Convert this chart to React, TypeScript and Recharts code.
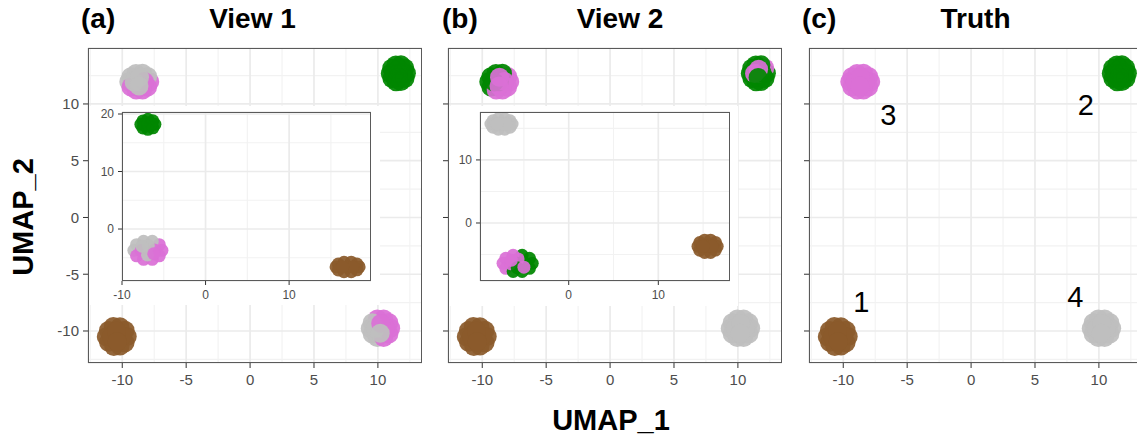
import React from 'react';
import { ScatterChart, Scatter, XAxis, YAxis, CartesianGrid } from 'recharts';

type Pt = [number, number];

const COLORS: Record<string, string> = {
  brown: '#8B5A2B',
  green: '#008700',
  pink: '#DA70D6',
  gray: '#BEBEBE',
};

// shared UMAP embedding (main panels), one array per truth cluster
const C1_PTS: Pt[] = [
  [-9.61, -10.48], [-9.78, -9.94], [-10.18, -9.63], [-10.7, -9.6], [-11.08, -9.95],
  [-11.25, -10.5], [-11.07, -11.0], [-10.66, -11.36], [-10.17, -11.33], [-9.78, -11.03],
  [-10.43, -10.48], [-10.0, -10.45], [-10.85, -10.5], [-10.45, -10.0], [-10.4, -10.95],
];
const C2_PTS: Pt[] = [
  [12.23, 12.7], [12.1, 13.17], [11.8, 13.45], [11.4, 13.43], [11.08, 13.15],
  [10.97, 12.68], [11.1, 12.23], [11.42, 11.96], [11.8, 11.97], [12.12, 12.25],
  [11.6, 12.7], [11.9, 12.72], [11.3, 12.68], [11.62, 13.05], [11.58, 12.33],
];
const C3_PTS: Pt[] = [
  [-7.85, 11.96], [-8.01, 12.43], [-8.42, 12.7], [-8.93, 12.68], [-9.33, 12.4],
  [-9.49, 11.95], [-9.32, 11.5], [-8.91, 11.22], [-8.41, 11.23], [-8.02, 11.5],
  [-8.67, 11.96], [-8.27, 11.98], [-9.07, 11.94], [-8.65, 12.35], [-8.69, 11.58],
];
const C4_PTS: Pt[] = [
  [11.0, -9.76], [10.85, -9.25], [10.45, -8.94], [9.95, -8.95], [9.55, -9.27],
  [9.4, -9.78], [9.56, -10.27], [9.95, -10.58], [10.45, -10.57], [10.86, -10.26],
  [10.2, -9.76], [10.6, -9.74], [9.8, -9.78], [10.22, -9.33], [10.18, -10.2],
];

// cluster labels per view for each point
const V1_C3 = ['pink', 'gray', 'gray', 'gray', 'gray', 'gray', 'pink', 'pink', 'pink', 'pink', 'gray', 'pink', 'gray', 'gray', 'gray'];
const V1_C4 = ['pink', 'pink', 'pink', 'pink', 'gray', 'gray', 'gray', 'gray', 'pink', 'pink', 'gray', 'pink', 'gray', 'pink', 'gray'];
const V2_C2 = ['green', 'pink', 'green', 'green', 'green', 'green', 'green', 'green', 'green', 'green', 'pink', 'green', 'pink', 'pink', 'green'];
const V2_C3 = ['pink', 'pink', 'green', 'green', 'green', 'green', 'green', 'pink', 'pink', 'pink', 'green', 'pink', 'green', 'pink', 'pink'];

// inset (a): view 1 UMAP
const IA_GREEN: Pt[] = [
  [-6.06, 18.2], [-6.31, 18.82], [-6.9, 19.07], [-7.49, 18.8], [-7.74, 18.2], [-7.5, 17.58],
  [-6.9, 17.33], [-6.3, 17.6], [-6.9, 18.2], [-6.5, 18.25], [-7.3, 18.15],
];
const IA_MIX: Pt[] = [
  [-5.22, -3.7], [-5.54, -2.73], [-6.38, -2.13], [-7.42, -2.13], [-8.26, -2.73], [-8.58, -3.7],
  [-8.26, -4.67], [-7.42, -5.27], [-6.38, -5.27], [-5.54, -4.67],
  [-6.9, -3.7], [-6.1, -3.65], [-7.7, -3.75], [-6.85, -2.9], [-6.95, -4.5], [-6.2, -4.3], [-7.6, -3.0],
];
const IA_MIX_LAB = ['pink', 'pink', 'gray', 'gray', 'gray', 'gray', 'pink', 'pink', 'pink', 'pink', 'gray', 'pink', 'pink', 'gray', 'gray', 'pink', 'gray'];
const IA_BROWN: Pt[] = [
  [18.38, -6.6], [18.12, -6.09], [17.43, -5.77], [16.57, -5.78], [15.88, -6.1], [15.62, -6.6],
  [15.88, -7.11], [16.57, -7.43], [17.43, -7.42], [18.12, -7.1], [17.0, -6.6], [17.6, -6.6], [16.4, -6.6],
];

// inset (b): view 2 UMAP
const IB_GRAY: Pt[] = [
  [-6.32, 15.7], [-6.55, 16.21], [-7.14, 16.53], [-7.86, 16.52], [-8.45, 16.2], [-8.68, 15.7],
  [-8.45, 15.19], [-7.86, 14.87], [-7.14, 14.88], [-6.55, 15.2], [-7.5, 15.7], [-7.0, 15.72], [-8.0, 15.68],
];
const IB_MIX: Pt[] = [
  [-4.07, -6.4], [-4.38, -5.61], [-5.2, -5.12], [-6.2, -5.12], [-7.02, -5.61], [-7.33, -6.4],
  [-7.02, -7.19], [-6.2, -7.68], [-5.2, -7.68], [-4.38, -7.19],
  [-5.7, -6.4], [-4.9, -6.35], [-6.5, -6.45], [-5.65, -5.7], [-5.75, -7.1], [-6.4, -5.9], [-5.0, -7.0],
];
const IB_MIX_LAB = ['green', 'green', 'green', 'pink', 'pink', 'pink', 'pink', 'green', 'green', 'green', 'green', 'green', 'pink', 'pink', 'green', 'pink', 'pink'];
const IB_BROWN: Pt[] = [
  [16.57, -3.7], [16.37, -3.09], [15.83, -2.72], [15.17, -2.73], [14.63, -3.1], [14.43, -3.7],
  [14.63, -4.31], [15.17, -4.68], [15.83, -4.67], [16.37, -4.3], [15.5, -3.7], [16.0, -3.7], [15.0, -3.7],
];

// truth cluster numbers in panel (c)
const TRUTH_LABELS = [
  { x: -8.59, y: -7.49, t: '1' },
  { x: 8.98, y: 9.87, t: '2' },
  { x: -6.48, y: 8.99, t: '3' },
  { x: 8.16, y: -7.0, t: '4' },
];

const MAIN_TICKS = [-10, -5, 0, 5, 10];
const MAIN_MINOR = [-12.5, -7.5, -2.5, 2.5, 7.5, 12.5];
const MAIN_X: [number, number] = [-12.68, 13.45];
const MAIN_Y: [number, number] = [-12.82, 14.93];

const FONT = '"Liberation Sans", Arial, Helvetica, sans-serif';

const mk = (pts: Pt[], labs: string[] | string) =>
  pts.map(([x, y], i) => ({ x, y, c: typeof labs === 'string' ? labs : labs[i] }));

const dot = (r: number) => (p: any) => {
  const c = p.payload?.c ?? p.c;
  return <circle cx={p.cx} cy={p.cy} r={r} fill={COLORS[c]} fillOpacity={0.93} />;
};

const numLabel = (p: any) => (
  <text x={p.cx} y={p.cy} textAnchor="middle" dominantBaseline="central" fontSize={29} fill="#000" fontFamily={FONT}>
    {p.payload?.t ?? p.t}
  </text>
);

const gen = (vals: number[], dir: 'x' | 'y', dom: [number, number]) => (args: any) => {
  const ax = dir === 'x' ? args.xAxis : args.yAxis;
  return vals.map((v) => {
    if (ax && typeof ax.scale === 'function') return ax.scale(v);
    const o = args.offset;
    return dir === 'x'
      ? o.left + ((v - dom[0]) / (dom[1] - dom[0])) * o.width
      : o.top + ((dom[1] - v) / (dom[1] - dom[0])) * o.height;
  });
};

type PlotProps = {
  left: number; top: number; w: number; h: number;
  yW: number; xH: number;
  xDom: [number, number]; yDom: [number, number];
  xTicks: number[]; yTicks: number[];
  xMinor: number[]; yMinor: number[];
  data: any[]; r: number;
  fs: number; showY: boolean; tickSize: number; xMargin: number; yMargin: number;
  labels?: any[];
};

const MT = 10; // room above the plot so top tick labels are not clipped

function Plot(p: PlotProps) {
  const tickStyle = { fill: '#4D4D4D', fontSize: p.fs, fontFamily: FONT };
  return (
    <>
      <div style={{ position: 'absolute', left: p.left - p.yW, top: p.top - MT }}>
        <ScatterChart width={p.w + p.yW} height={p.h + p.xH + MT} margin={{ top: MT, right: 0, bottom: 0, left: 0 }}>
          <CartesianGrid
            stroke="#F2F2F2"
            strokeWidth={1.1}
            verticalCoordinatesGenerator={gen(p.xMinor, 'x', p.xDom)}
            horizontalCoordinatesGenerator={gen(p.yMinor, 'y', p.yDom)}
          />
          <CartesianGrid stroke="#EBEBEB" strokeWidth={1.7} />
          <XAxis
            type="number" dataKey="x" domain={p.xDom} allowDataOverflow ticks={p.xTicks}
            height={p.xH} axisLine={false} tickSize={p.tickSize} tickMargin={p.xMargin}
            tickLine={{ stroke: '#333333' }} tick={tickStyle} interval={0}
          />
          <YAxis
            type="number" dataKey="y" domain={p.yDom} allowDataOverflow ticks={p.yTicks}
            width={p.yW} axisLine={false} tickSize={p.tickSize} tickMargin={p.yMargin}
            tickLine={{ stroke: '#333333' }} tick={tickStyle} interval={0}
            tickFormatter={(v: number) => (p.showY ? String(v) : '')}
          />
          <Scatter data={p.data} shape={dot(p.r)} isAnimationActive={false} />
          {p.labels && <Scatter data={p.labels} shape={numLabel} isAnimationActive={false} />}
        </ScatterChart>
      </div>
      <div
        style={{
          position: 'absolute', left: p.left, top: p.top, width: p.w, height: p.h,
          border: '1px solid #5A5A5A', boxSizing: 'border-box', pointerEvents: 'none',
        }}
      />
    </>
  );
}

function MainPanel({ left, data, showY, labels }: { left: number; data: any[]; showY: boolean; labels?: any[] }) {
  return (
    <Plot
      left={left} top={48} w={334} h={315} yW={40} xH={36}
      xDom={MAIN_X} yDom={MAIN_Y} xTicks={MAIN_TICKS} yTicks={MAIN_TICKS}
      xMinor={MAIN_MINOR} yMinor={MAIN_MINOR} data={data} r={9.5}
      fs={15} showY={showY} tickSize={5} xMargin={6} yMargin={4} labels={labels}
    />
  );
}

export default function App() {
  const truthData = [...mk(C1_PTS, 'brown'), ...mk(C2_PTS, 'green'), ...mk(C3_PTS, 'pink'), ...mk(C4_PTS, 'gray')];
  const view1Data = [...mk(C1_PTS, 'brown'), ...mk(C2_PTS, 'green'), ...mk(C3_PTS, V1_C3), ...mk(C4_PTS, V1_C4)];
  const view2Data = [...mk(C1_PTS, 'brown'), ...mk(C2_PTS, V2_C2), ...mk(C3_PTS, V2_C3), ...mk(C4_PTS, 'gray')];
  const insetA = [...mk(IA_GREEN, 'green'), ...mk(IA_MIX, IA_MIX_LAB), ...mk(IA_BROWN, 'brown')];
  const insetB = [...mk(IB_GRAY, 'gray'), ...mk(IB_MIX, IB_MIX_LAB), ...mk(IB_BROWN, 'brown')];

  return (
    <div
      style={{
        position: 'absolute', left: 0, top: 0, width: 1137, height: 441, overflow: 'hidden',
        background: '#fff', fontFamily: FONT,
      }}
    >
      {/* (a) view 1 */}
      <MainPanel left={88} data={view1Data} showY />
      <div style={{ position: 'absolute', left: 89, top: 106, width: 291, height: 199, background: '#fff' }} />
      <Plot
        left={122} top={112} w={249} h={169} yW={34} xH={24}
        xDom={[-10, 19.8]} yDom={[-9.04, 20.35]} xTicks={[-10, 0, 10]} yTicks={[0, 10, 20]}
        xMinor={[-5, 5, 15]} yMinor={[-5, 5, 15]} data={insetA} r={6.5}
        fs={12} showY tickSize={4} xMargin={5} yMargin={4}
      />

      {/* (b) view 2 */}
      <MainPanel left={448} data={view2Data} showY={false} />
      <div style={{ position: 'absolute', left: 449, top: 106, width: 289, height: 200, background: '#fff' }} />
      <Plot
        left={480} top={112} w={250} h={169} yW={34} xH={24}
        xDom={[-9.9, 18.0]} yDom={[-9.2, 17.6]} xTicks={[0, 10]} yTicks={[0, 10]}
        xMinor={[-5, 5, 15]} yMinor={[-5, 5, 15]} data={insetB} r={6.5}
        fs={12} showY tickSize={4} xMargin={5} yMargin={4}
      />

      {/* (c) truth */}
      <MainPanel left={809} data={truthData} showY={false} labels={TRUTH_LABELS} />

      <svg width={1137} height={441} style={{ position: 'absolute', left: 0, top: 0, pointerEvents: 'none' }}>
        <g fontFamily={FONT} fontWeight="bold" fill="#000">
          <text x={81} y={28} fontSize={28}>(a)</text>
          <text x={252.5} y={28} fontSize={28} textAnchor="middle">View 1</text>
          <text x={442} y={28} fontSize={28}>(b)</text>
          <text x={620} y={28} fontSize={28} textAnchor="middle">View 2</text>
          <text x={802} y={28} fontSize={28}>(c)</text>
          <text x={975.5} y={28} fontSize={28} textAnchor="middle">Truth</text>
          <text x={611} y={430} fontSize={29} textAnchor="middle">UMAP_1</text>
          <text x={33} y={217} fontSize={29} textAnchor="middle" transform="rotate(-90 33 217)">UMAP_2</text>
        </g>
      </svg>
    </div>
  );
}
